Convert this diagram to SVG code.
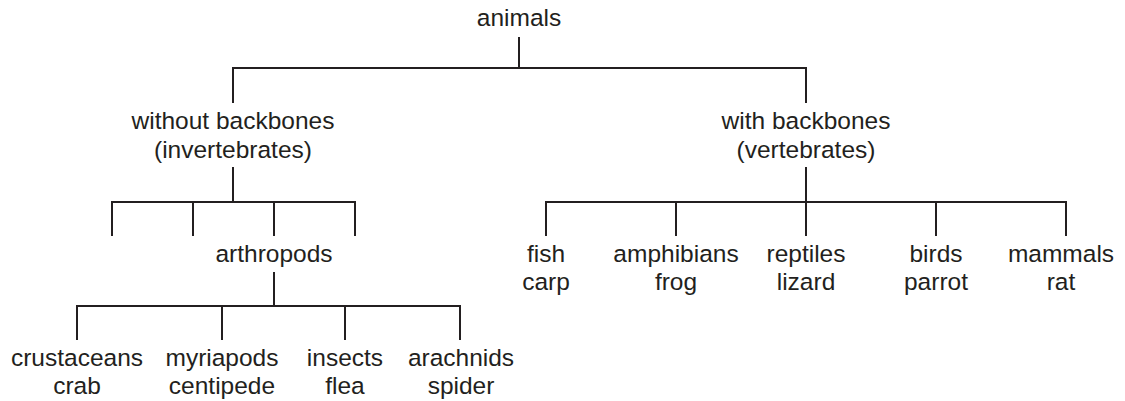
<svg xmlns="http://www.w3.org/2000/svg" width="1125" height="401" viewBox="0 0 1125 401">
<style>
text{font-family:"Liberation Sans",Arial,sans-serif;font-size:24.5px;fill:#231f20;text-anchor:middle}
.c path{fill:none;stroke:#231f20;stroke-width:2;stroke-linejoin:miter}
</style>
<rect width="1125" height="401" fill="#fff"/>
<g class="c" id="connectors">
<path d="M519,37V68M233,103V68H806V103"/>
<path d="M233,167V202M112,236V202H355V236M193,202V236M274,202V236"/>
<path d="M806,167V202M546,236V202H1066V236M676,202V236M806,202V236M936,202V236"/>
<path d="M274,272V306M77,340V306H460V340M222,306V340M345,306V340"/>
</g>
<g id="animals"><text x="519" y="26">animals</text></g>
<g id="invertebrates"><text x="233" y="129">without backbones</text><text x="233" y="158">(invertebrates)</text></g>
<g id="vertebrates"><text x="806" y="129">with backbones</text><text x="806" y="158">(vertebrates)</text></g>
<g id="arthropods"><text x="274" y="262">arthropods</text></g>
<g id="crustaceans"><text x="77" y="366">crustaceans</text><text x="77" y="394">crab</text></g>
<g id="myriapods"><text x="222" y="366">myriapods</text><text x="222" y="394">centipede</text></g>
<g id="insects"><text x="345" y="366">insects</text><text x="345" y="394">flea</text></g>
<g id="arachnids"><text x="461" y="366">arachnids</text><text x="461" y="394">spider</text></g>
<g id="fish"><text x="546" y="262">fish</text><text x="546" y="290">carp</text></g>
<g id="amphibians"><text x="676" y="262">amphibians</text><text x="676" y="290">frog</text></g>
<g id="reptiles"><text x="806" y="262">reptiles</text><text x="806" y="290">lizard</text></g>
<g id="birds"><text x="936" y="262">birds</text><text x="936" y="290">parrot</text></g>
<g id="mammals"><text x="1061" y="262">mammals</text><text x="1061" y="290">rat</text></g>
</svg>
